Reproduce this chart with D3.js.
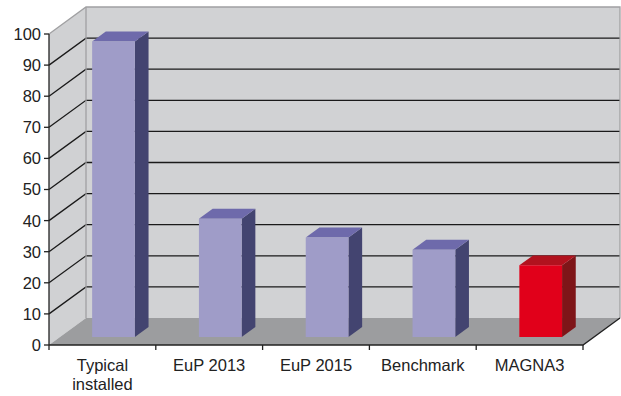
<!DOCTYPE html>
<html><head><meta charset="utf-8">
<script src="https://cdn.jsdelivr.net/npm/d3@7"></script>
<style>body{margin:0;background:#fff}svg{display:block}</style>
</head><body>
<svg id="c" width="621" height="396"></svg>
<script>
const categories = ["Typical installed", "EuP 2013", "EuP 2015", "Benchmark", "MAGNA3"];
const values = [95, 38, 32, 28, 23];
const highlight = [false, false, false, false, true];
const yTicks = [0,10,20,30,40,50,60,70,80,90,100];

const svg = d3.select("#c");
const X0 = 49, X1 = 583, Y0 = 345, Y1 = 34;
const DX = 37, DY = -27;
const x = d3.scaleBand().domain(categories).range([X0, X1]).padding(0);
const y = d3.scaleLinear().domain([0,100]).range([Y0, Y1]);
const P = (px, v, z) => [px + z*DX, y(v) + z*DY];
const poly = pts => pts.map(p => p.join(",")).join(" ");

// left wall
svg.append("polygon").attr("points", poly([P(X0,0,0),P(X0,100,0),P(X0,100,1),P(X0,0,1)]))
  .attr("fill","#d0d1d3");
// back wall
svg.append("polygon").attr("points", poly([P(X0,0,1),P(X0,100,1),P(X1,100,1),P(X1,0,1)]))
  .attr("fill","#d1d2d4");
// gridlines
yTicks.filter(t => t>0 && t<100).forEach(t => {
  svg.append("polyline").attr("points", poly([P(X0,t,0),P(X0,t,1),P(X1,t,1)]))
    .attr("fill","none").attr("stroke","#1a1a1a").attr("stroke-width",1.3);
});
// wall outlines
svg.append("polyline").attr("points", poly([P(X0,100,0),P(X0,100,1),P(X1,100,1),P(X1,0,1)]))
  .attr("fill","none").attr("stroke","#a0a0a2").attr("stroke-width",1.3);
svg.append("line").attr("x1",P(X0,0,1)[0]).attr("y1",P(X0,0,1)[1]).attr("x2",P(X0,100,1)[0]).attr("y2",P(X0,100,1)[1])
  .attr("stroke","#a0a0a2").attr("stroke-width",1.3);
// floor
svg.append("polygon").attr("points", poly([P(X0,0,0),P(X1,0,0),P(X1,0,1),P(X0,0,1)]))
  .attr("fill","#9c9d9f");
svg.append("polyline").attr("points", poly([P(X0,0,0),P(X1,0,0),P(X1,0,1)]))
  .attr("fill","none").attr("stroke","#222").attr("stroke-width",1.3);

// bars
const Z0 = 0.3, Z1 = 0.67;
const bw = x.bandwidth()*0.4;
const colors = {
  normal: {front:"#9f9cc8", side:"#434470", top:"#6e6aab"},
  hi: {front:"#e1001a", side:"#7e1518", top:"#b1121e"}
};
categories.forEach((c,i) => {
  const cx = x(c) + x.bandwidth()/2;
  const xl = cx - bw/2, xr = cx + bw/2, v = values[i];
  const col = highlight[i] ? colors.hi : colors.normal;
  const g = svg.append("g");
  g.append("polygon").attr("points", poly([P(xr,0,Z0),P(xr,0,Z1),P(xr,v,Z1),P(xr,v,Z0)])).attr("fill",col.side);
  g.append("polygon").attr("points", poly([P(xl,v,Z0),P(xl,v,Z1),P(xr,v,Z1),P(xr,v,Z0)])).attr("fill",col.top);
  g.append("polygon").attr("points", poly([P(xl,0,Z0),P(xl,v,Z0),P(xr,v,Z0),P(xr,0,Z0)])).attr("fill",col.front);
});

// y axis
svg.append("line").attr("x1",X0).attr("x2",X0).attr("y1",y(0)).attr("y2",y(100))
  .attr("stroke","#222").attr("stroke-width",1.3);
yTicks.forEach(t => {
  svg.append("line").attr("x1",X0-5).attr("x2",X0).attr("y1",y(t)).attr("y2",y(t))
    .attr("stroke","#222").attr("stroke-width",1.3);
  svg.append("text").attr("x",X0-8).attr("y",y(t)).attr("dy","0.36em")
    .attr("text-anchor","end").attr("font-family","Liberation Sans, Arial, sans-serif")
    .attr("font-size","16.5px").attr("fill","#222").text(t);
});
// x ticks
categories.map(c => x(c)).concat([X1]).forEach(px => {
  svg.append("line").attr("x1",px).attr("x2",px).attr("y1",Y0).attr("y2",Y0+5)
    .attr("stroke","#222").attr("stroke-width",1.3);
});
// x labels
categories.forEach(c => {
  const cx = x(c) + x.bandwidth()/2;
  const words = c === "Typical installed" ? ["Typical","installed"] : [c];
  const t = svg.append("text").attr("text-anchor","middle")
    .attr("font-family","Liberation Sans, Arial, sans-serif").attr("font-size","16.5px").attr("fill","#222");
  words.forEach((w,k) => t.append("tspan").attr("x",cx).attr("y",371 + k*19).text(w));
});
</script>
</body></html>
